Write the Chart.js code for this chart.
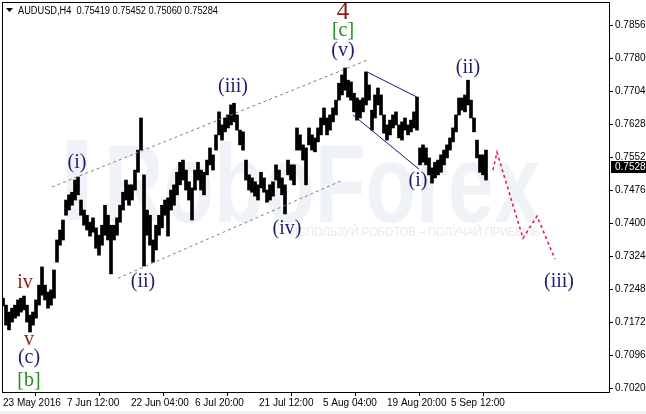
<!DOCTYPE html>
<html>
<head>
<meta charset="utf-8">
<script src="https://cdn.jsdelivr.net/npm/chart.js@4.4.1/dist/chart.umd.min.js"></script>
<style>
  html, body { margin: 0; padding: 0; background: #fff; }
</style>
</head>
<body>
<canvas id="chart" width="646" height="414"></canvas>
<script>
// H4 bars, read every 3rd bar off the picture
const firstBar = 1;
const barStep = 3;
const highs = [
  0.7227, 0.7211, 0.7195, 0.7204, 0.7211, 0.7223, 0.7227, 0.7232, 0.7211, 0.7188,
  0.7195, 0.7223, 0.7257, 0.7299, 0.7257, 0.7241, 0.7246, 0.7292, 0.7361, 0.7384,
  0.7407, 0.7453, 0.7465, 0.7471, 0.7499, 0.7506, 0.7453, 0.7430, 0.7418, 0.7402,
  0.7412, 0.7389, 0.7372, 0.7395, 0.7441, 0.7418, 0.7395, 0.7395, 0.7412, 0.7441,
  0.7471, 0.7499, 0.7488, 0.7488, 0.7522, 0.7568, 0.7642, 0.7511, 0.7430, 0.7418,
  0.7361, 0.7395, 0.7418, 0.7441, 0.7453, 0.7458, 0.7476, 0.7488, 0.7517, 0.7540,
  0.7545, 0.7522, 0.7495, 0.7481, 0.7522, 0.7540, 0.7522, 0.7517, 0.7545, 0.7573,
  0.7557, 0.7603, 0.7656, 0.7626, 0.7642, 0.7649, 0.7672, 0.7676, 0.7649, 0.7614,
  0.7610, 0.7545, 0.7511, 0.7504, 0.7495, 0.7488, 0.7517, 0.7504, 0.7476, 0.7488,
  0.7495, 0.7534, 0.7522, 0.7504, 0.7488, 0.7545, 0.7534, 0.7534, 0.7619, 0.7603,
  0.7580, 0.7573, 0.7619, 0.7603, 0.7596, 0.7619, 0.7642, 0.7665, 0.7642, 0.7649,
  0.7665, 0.7683, 0.7722, 0.7741, 0.7757, 0.7729, 0.7725, 0.7699, 0.7688, 0.7683,
  0.7688, 0.7748, 0.7718, 0.7660, 0.7695, 0.7711, 0.7695, 0.7649, 0.7626, 0.7637,
  0.7649, 0.7656, 0.7626, 0.7633, 0.7642, 0.7626, 0.7637, 0.7656, 0.7690, 0.7573,
  0.7580, 0.7573, 0.7550, 0.7527, 0.7540, 0.7545, 0.7557, 0.7568, 0.7580, 0.7596,
  0.7619, 0.7649, 0.7688, 0.7688, 0.7695, 0.7729, 0.7683, 0.7642, 0.7591, 0.7557,
  0.7557, 0.7568
];
const lows = [
  0.7209, 0.7165, 0.7154, 0.7172, 0.7181, 0.7186, 0.7195, 0.7200, 0.7172, 0.7149,
  0.7165, 0.7181, 0.7211, 0.7234, 0.7223, 0.7204, 0.7211, 0.7227, 0.7310, 0.7349,
  0.7361, 0.7418, 0.7430, 0.7441, 0.7453, 0.7465, 0.7418, 0.7395, 0.7384, 0.7370,
  0.7379, 0.7342, 0.7326, 0.7349, 0.7372, 0.7361, 0.7283, 0.7361, 0.7372, 0.7402,
  0.7430, 0.7453, 0.7441, 0.7453, 0.7476, 0.7517, 0.7568, 0.7301, 0.7372, 0.7349,
  0.7310, 0.7338, 0.7372, 0.7389, 0.7418, 0.7370, 0.7430, 0.7441, 0.7465, 0.7488,
  0.7499, 0.7476, 0.7453, 0.7407, 0.7476, 0.7499, 0.7476, 0.7465, 0.7511, 0.7534,
  0.7522, 0.7568, 0.7603, 0.7591, 0.7610, 0.7619, 0.7626, 0.7633, 0.7614, 0.7580,
  0.7568, 0.7499, 0.7476, 0.7471, 0.7462, 0.7453, 0.7481, 0.7471, 0.7448, 0.7453,
  0.7462, 0.7499, 0.7481, 0.7465, 0.7421, 0.7511, 0.7499, 0.7488, 0.7568, 0.7568,
  0.7545, 0.7488, 0.7580, 0.7568, 0.7564, 0.7587, 0.7603, 0.7626, 0.7603, 0.7614,
  0.7633, 0.7649, 0.7683, 0.7695, 0.7706, 0.7690, 0.7683, 0.7656, 0.7637, 0.7642,
  0.7656, 0.7672, 0.7683, 0.7614, 0.7642, 0.7672, 0.7649, 0.7607, 0.7591, 0.7603,
  0.7619, 0.7626, 0.7596, 0.7591, 0.7614, 0.7603, 0.7610, 0.7619, 0.7614, 0.7534,
  0.7540, 0.7534, 0.7511, 0.7492, 0.7504, 0.7511, 0.7517, 0.7534, 0.7550, 0.7568,
  0.7587, 0.7610, 0.7649, 0.7660, 0.7656, 0.7672, 0.7642, 0.7610, 0.7550, 0.7517,
  0.7511, 0.7499
];
const lastClose = 0.75284;
const headerText = 'AUDUSD,H4  0.75419 0.75452 0.75060 0.75284';

const priceTicks = [0.7020, 0.7096, 0.7172, 0.7248, 0.7324, 0.7400, 0.7476, 0.7552, 0.7628, 0.7704, 0.7780, 0.7856];
const dateTickBars = [1, 65, 129, 193, 257, 321, 385, 449];
const dateLabels = ['23 May 2016', '7 Jun 12:00', '22 Jun 04:00', '6 Jul 20:00', '21 Jul 12:00', '5 Aug 04:00', '19 Aug 20:00', '5 Sep 12:00'];

// forecast path and drawn lines (bar, price)
const forecastBars = [491, 495, 521, 535, 553];
const forecastPrices = [0.7522, 0.7563, 0.7365, 0.7416, 0.7317];
const channelTopBars = [50, 365];
const channelTopPrices = [0.7483, 0.7775];
const channelBottomBars = [116, 341];
const channelBottomPrices = [0.7273, 0.7499];
const wedgeTopBars = [365, 415];
const wedgeTopPrices = [0.7748, 0.7690];
const wedgeBottomBars = [351, 417];
const wedgeBottomPrices = [0.7649, 0.7524];

// wave marks
const waveText = ['4', '[c]', '(v)', '(iii)', '(i)', '(ii)', '(iv)', '(i)', '(ii)', '(iii)', 'iv', 'v', '(c)', '[b]'];
const waveBars = [341, 341, 341, 231, 75, 141, 285, 416, 466, 557, 23, 27, 27, 27];
const wavePrices = [0.7884, 0.7842, 0.7796, 0.7713, 0.7540, 0.7264, 0.7386, 0.7497, 0.7757, 0.7266, 0.7262, 0.7131, 0.7089, 0.7036];
const waveKind = ['big', 'minor', 'sub', 'sub', 'sub', 'sub', 'sub', 'sub', 'sub', 'sub', 'minute', 'minute', 'sub', 'minor'];

const kindStyle = {
  big: { color: '#8b1a1a', size: 25 },
  minor: { color: '#2a8a2a', size: 20 },
  sub: { color: '#1e1e6e', size: 20 },
  minute: { color: '#8b1a1a', size: 20 },
};

function pts(xs, ys) {
  return xs.map((x, i) => ({ x, y: ys[i] }));
}

const bars = highs.map((h, i) => ({ x: firstBar + i * barStep, y: [lows[i], h] }));

const decor = {
  id: 'decor',
  beforeDatasetsDraw(chart) {
    const { ctx } = chart;
    ctx.save();
    // watermark
    ctx.fillStyle = '#eff2f6';
    ctx.fillRect(67, 140, 20, 80);
    ctx.font = 'bold 112px "Liberation Sans"';
    const w = ctx.measureText('RoboForex').width;
    ctx.translate(104, 222);
    ctx.scale(436 / w, 1);
    ctx.textBaseline = 'alphabetic';
    ctx.fillText('RoboForex', 0, 0);
    ctx.restore();
    ctx.save();
    ctx.fillStyle = '#e6e9ee';
    ctx.font = '12px "Liberation Sans"';
    ctx.textBaseline = 'alphabetic';
    ctx.fillText('ИСПОЛЬЗУЙ РОБОТОВ – ПОЛУЧАЙ ПРИБЫЛЬ', 290, 236, 250);
    ctx.restore();
  },
  afterDatasetsDraw(chart) {
    const { ctx, scales } = chart;
    ctx.save();
    ctx.textAlign = 'center';
    ctx.textBaseline = 'middle';
    waveText.forEach((t, i) => {
      const st = kindStyle[waveKind[i]];
      ctx.font = st.size + 'px "Liberation Serif"';
      ctx.fillStyle = st.color;
      ctx.fillText(t, scales.x.getPixelForValue(waveBars[i]), scales.y.getPixelForValue(wavePrices[i]));
    });
    ctx.restore();
  },
  afterDraw(chart) {
    const { ctx, chartArea, scales } = chart;
    ctx.save();
    ctx.strokeStyle = '#000';
    ctx.lineWidth = 1;
    ctx.strokeRect(chartArea.left + 0.5, chartArea.top + 0.5, chartArea.right - chartArea.left, chartArea.bottom - chartArea.top);
    // header
    ctx.fillStyle = '#000';
    ctx.beginPath();
    ctx.moveTo(6, 8); ctx.lineTo(13, 8); ctx.lineTo(9.5, 12); ctx.closePath();
    ctx.fill();
    ctx.font = '10px "Liberation Sans"';
    ctx.textBaseline = 'alphabetic';
    ctx.fillText(headerText, 18, 14, 200);
    // last price tag
    const y = Math.round(scales.y.getPixelForValue(lastClose));
    ctx.fillRect(611, y - 6, 35, 12);
    ctx.fillStyle = '#fff';
    ctx.textBaseline = 'middle';
    ctx.fillText(lastClose.toFixed(5), 615, y + 0.5);
    // bottom strip
    ctx.fillStyle = '#f0f0f0';
    ctx.fillRect(0, 411, 646, 3);
    ctx.restore();
  }
};

const axisFont = { family: 'Liberation Sans', size: 10 };

new Chart(document.getElementById('chart'), {
  type: 'bar',
  data: {
    datasets: [
      { type: 'line', data: pts(forecastBars, forecastPrices), borderColor: '#e8104a', borderWidth: 1.5, borderDash: [3, 3], pointRadius: 0, tension: 0 },
      { type: 'line', data: pts(wedgeTopBars, wedgeTopPrices), borderColor: '#191970', borderWidth: 1, pointRadius: 0 },
      { type: 'line', data: pts(wedgeBottomBars, wedgeBottomPrices), borderColor: '#191970', borderWidth: 1, pointRadius: 0 },
      { type: 'line', data: pts(channelTopBars, channelTopPrices), borderColor: '#808080', borderWidth: 1, borderDash: [3, 3], pointRadius: 0 },
      { type: 'line', data: pts(channelBottomBars, channelBottomPrices), borderColor: '#808080', borderWidth: 1, borderDash: [3, 3], pointRadius: 0 },
      { type: 'bar', data: bars, backgroundColor: '#000', borderWidth: 0, barThickness: 3, grouped: false },
    ],
  },
  options: {
    responsive: false,
    animation: false,
    layout: { padding: { left: 2, top: 2, right: 0, bottom: 0 } },
    plugins: { legend: { display: false }, tooltip: { enabled: false } },
    scales: {
      x: {
        type: 'linear',
        min: 0,
        max: 607,
        offset: false,
        grid: { drawOnChartArea: false, drawTicks: true, tickLength: 4, color: '#000' },
        border: { color: '#000' },
        ticks: {
          align: 'start',
          padding: 1,
          maxRotation: 0,
          autoSkip: false,
          color: '#000',
          font: axisFont,
          callback: (v, i) => dateLabels[i],
        },
        afterBuildTicks: (s) => { s.ticks = dateTickBars.map((v) => ({ value: v })); },
        afterFit: (s) => { s.height = 22; s.paddingLeft = 0; s.paddingRight = 0; },
      },
      y: {
        type: 'linear',
        position: 'right',
        min: 0.7011,
        max: 0.7909,
        grid: { drawOnChartArea: false, drawTicks: true, tickLength: 4, color: '#000' },
        border: { color: '#000' },
        ticks: {
          padding: 2,
          color: '#000',
          font: axisFont,
          callback: (v) => v.toFixed(5),
        },
        afterBuildTicks: (s) => { s.ticks = priceTicks.map((v) => ({ value: v })); },
        afterFit: (s) => { s.width = 37; s.paddingTop = 0; s.paddingBottom = 0; },
      },
    },
  },
  plugins: [decor],
});
</script>
</body>
</html>
